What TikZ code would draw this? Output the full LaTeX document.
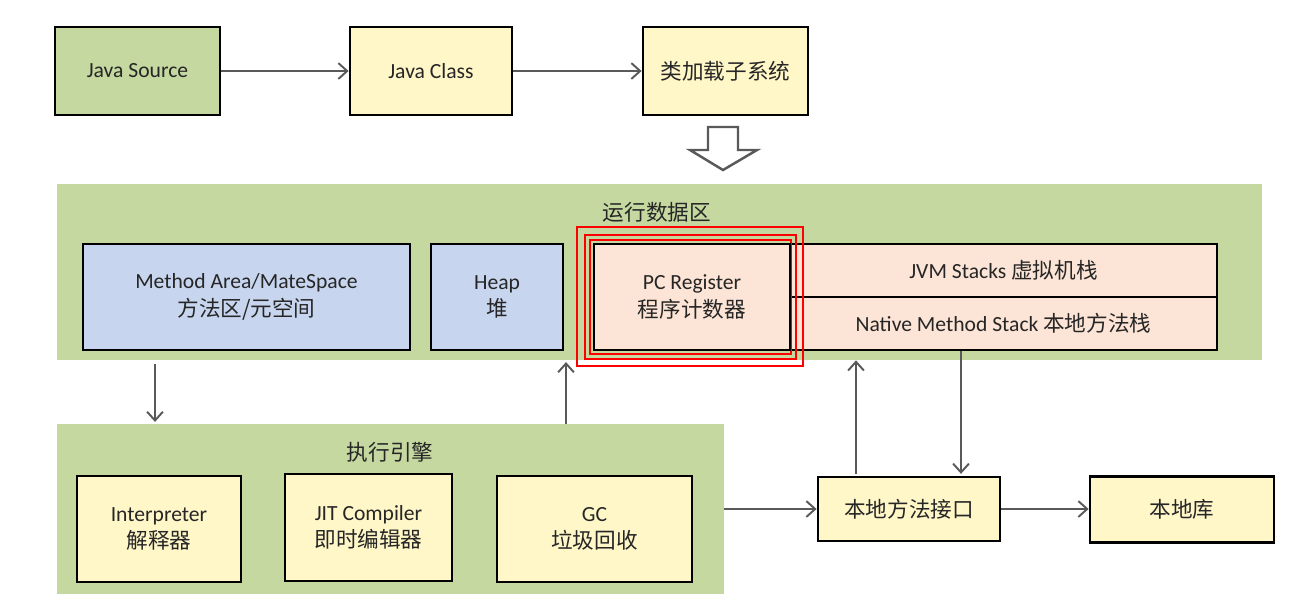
\documentclass[tikz,border=0pt]{standalone}
\usepackage{fontspec}
\setmainfont{Carlito}
\newfontfamily\cjk{Noto Sans CJK SC}
\usepackage{xcolor}
\definecolor{jvmgreen}{RGB}{197, 216, 160}
\definecolor{jvmyellow}{RGB}{255, 247, 200}
\definecolor{jvmblue}{RGB}{199, 213, 238}
\definecolor{jvmpink}{RGB}{252, 228, 214}
\definecolor{jvmline}{RGB}{89, 89, 89}
\definecolor{jvmtext}{RGB}{38, 38, 38}
\usetikzlibrary{arrows.meta,positioning,calc}

\begin{document}
\begin{tikzpicture}[x=0.02cm,y=-0.02cm,
    font=\fontsize{12.3}{15.5}\selectfont, text=jvmtext,
    box/.style={draw=black, line width=1.6pt, inner sep=0pt, align=center},
    area/.style={fill=jvmgreen, inner sep=0pt},
    arr/.style={draw=jvmline, line width=1.1pt, -{Straight Barb[length=5pt,width=9pt]}},
    redframe/.style={draw=red, line width=1.5pt}]
    \useasboundingbox (0,0) rectangle (1302,610);

    % Class loading
    \node[box, fill=jvmgreen, minimum width=3.3cm, minimum height=1.76cm] (src) at (137.5,71) {Java Source};
    \node[box, fill=jvmyellow, minimum width=3.24cm, minimum height=1.76cm] (cls) at (431,71) {Java Class};
    \node[box, fill=jvmyellow, minimum width=3.3cm, minimum height=1.76cm] (loader) at (725.5,71) {\cjk 类加载子系统};
    \draw[arr] (src) -- (cls);
    \draw[arr] (cls) -- (loader);

    % Hollow arrow
    \draw[jvmline, line width=1.4pt, fill=white]
        (708,127) -- (738,127) -- (738,150) -- (757,150) -- (723,170)
        -- (690,150) -- (708,150) -- cycle;

    % Runtime data area
    \node[area, minimum width=24.1cm, minimum height=3.52cm] (rda) at (659.5,272) {};
    \node (rdatitle) at (657,212) {\cjk 运行数据区};
    \node[box, fill=jvmblue, minimum width=6.54cm, minimum height=2.12cm] (method) at (246.5,297)
        {Method Area/MateSpace\\{\cjk 方法区/元空间}};
    \node[box, fill=jvmblue, minimum width=2.64cm, minimum height=2.12cm] (heap) at (497,297)
        {Heap\\{\cjk 堆}};
    \node[box, fill=jvmpink, minimum width=8.54cm, minimum height=1.06cm] (jvms) at (1003.5,270.5)
        {JVM Stacks {\cjk 虚拟机栈}};
    \node[box, fill=jvmpink, minimum width=8.54cm, minimum height=1.06cm] (nms) at (1003.5,323.5)
        {Native Method Stack {\cjk 本地方法栈}};
    \draw[redframe] (577,227) rectangle (803,366);
    \draw[redframe] (585,235) rectangle (796,359);
    \draw[redframe] (590,240) rectangle (791,354);
    \node[box, fill=jvmpink, minimum width=3.92cm, minimum height=2.12cm] (pc) at (692,297)
        {PC Register\\{\cjk 程序计数器}};

    % Execution engine
    \node[area, minimum width=13.34cm, minimum height=3.4cm] (engine) at (390.5,509) {};
    \node (engtitle) at (390,452) {\cjk 执行引擎};
    \node[box, fill=jvmyellow, minimum width=3.28cm, minimum height=2.12cm] (interp) at (159,529)
        {Interpreter\\{\cjk 解释器}};
    \node[box, fill=jvmyellow, minimum width=3.34cm, minimum height=2.14cm] (jit) at (368.5,527.5)
        {JIT Compiler\\{\cjk 即时编辑器}};
    \node[box, fill=jvmyellow, minimum width=3.9cm, minimum height=2.12cm] (gc) at (594.5,529)
        {GC\\{\cjk 垃圾回收}};

    % Native side
    \node[box, fill=jvmyellow, minimum width=3.64cm, minimum height=1.28cm] (nmi) at (909,509) {\cjk 本地方法接口};
    \node[box, fill=jvmyellow, minimum width=3.68cm, minimum height=1.32cm] (lib) at (1182,509.5) {\cjk 本地库};

    % Connectors
    \draw[arr, shorten <=2pt, shorten >=1pt] (rda.south -| 155,0) -- (engine.north -| 155,0);
    \draw[arr, shorten >=1pt] (engine.north -| 566,0) -- (rda.south -| 566,0);
    \draw[arr] (engine.east |- nmi.west) -- (nmi.west);
    \draw[arr] (nmi.east) -- (lib.west |- nmi.east);
    \draw[arr, shorten <=1pt] (nmi.north -| 856,0) -- (rda.south -| 856,0);
    \draw[arr, shorten >=1pt] (nms.south -| 961,0) -- (nmi.north -| 961,0);
\end{tikzpicture}
\end{document}
